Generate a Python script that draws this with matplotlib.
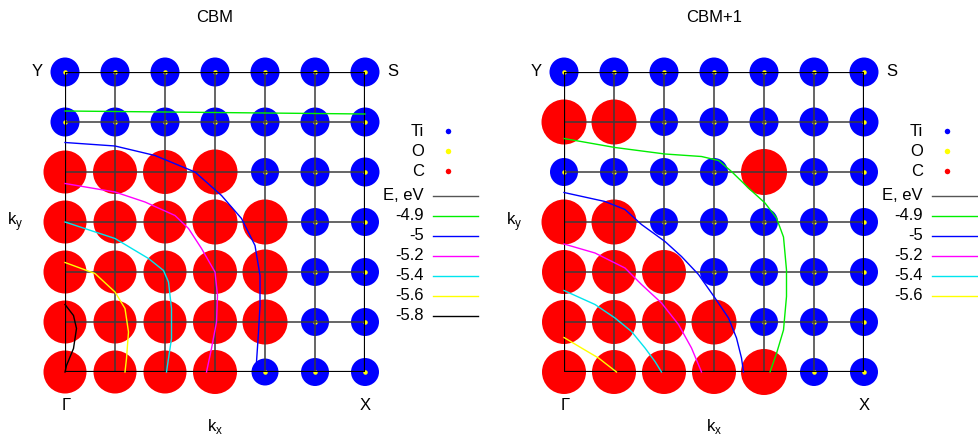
import matplotlib.pyplot as plt
import numpy as np

plt.rcParams['font.family'] = ['Liberation Sans', 'DejaVu Sans']

# k-point grid (7 x 7), index units between Γ and X / Γ and Y
kx = np.arange(7)
ky = np.arange(7)

# marker diameters (px); rows go from top (Y-S, ky=6) to bottom (Γ-X, ky=0)
cbm_ti = [[29, 29, 29, 29, 29, 29, 29],
          [29, 29, 29, 29, 29, 29, 29],
          [0, 0, 0, 0, 28, 29, 29],
          [0, 0, 0, 0, 0, 28, 28],
          [0, 0, 0, 0, 0, 28, 28],
          [0, 0, 0, 0, 0, 28, 28],
          [0, 0, 0, 0, 27, 28, 28]]
cbm_c = [[0, 0, 0, 0, 0, 0, 0],
         [0, 0, 0, 0, 0, 0, 0],
         [43, 44, 44, 45, 0, 0, 0],
         [43, 43, 43, 45, 45, 0, 0],
         [43, 43, 43, 44, 45, 0, 0],
         [43, 43, 43, 44, 45, 0, 0],
         [43, 43, 43, 44, 0, 0, 0]]

cbm1_ti = [[29, 29, 29, 29, 29, 29, 29],
           [0, 0, 28, 29, 29, 29, 29],
           [28, 28, 28, 28, 0, 28, 28],
           [0, 0, 28, 28, 28, 28, 28],
           [0, 0, 0, 28, 28, 28, 28],
           [0, 0, 0, 0, 28, 28, 28],
           [0, 0, 0, 0, 0, 28, 28]]
cbm1_c = [[0, 0, 0, 0, 0, 0, 0],
          [45, 45, 0, 0, 0, 0, 0],
          [0, 0, 0, 0, 46, 0, 0],
          [45, 45, 0, 0, 0, 0, 0],
          [44, 44, 44, 0, 0, 0, 0],
          [44, 44, 44, 45, 0, 0, 0],
          [44, 44, 44, 44, 46, 0, 0]]
o_size = 4.5

levels = ['-4.9', '-5', '-5.2', '-5.4', '-5.6', '-5.8']
level_colors = ['#00ee00', '#0000ff', '#ff00ff', '#00e5ee', '#ffff00', '#000000']

# iso-energy lines (kx, ky) for CBM
cbm_lines = {
    '-4.9': ([0, 1, 2, 3, 4, 5, 6], [5.22, 5.21, 5.20, 5.19, 5.18, 5.17, 5.16]),
    '-5': ([0, 1, 1.8, 2.6, 3.13, 3.53, 3.8, 3.9, 3.9, 3.87, 3.83],
           [4.59, 4.52, 4.33, 4.0, 3.53, 3.07, 2.53, 1.93, 1.33, 0.8, 0.2]),
    '-5.2': ([0, 1, 1.6, 2.2, 2.47, 2.73, 3.0, 3.05, 3.03, 2.93, 2.83],
             [3.77, 3.6, 3.4, 3.13, 2.87, 2.47, 2.0, 1.53, 1.0, 0.47, 0.0]),
    '-5.4': ([0, 1, 1.67, 1.97, 2.07, 2.13, 2.13, 2.03],
             [3.0, 2.67, 2.27, 2.03, 1.8, 1.27, 0.67, 0.0]),
    '-5.6': ([0, 0.6, 1.0, 1.2, 1.27, 1.23, 1.2],
             [2.19, 1.97, 1.6, 1.27, 0.8, 0.27, 0.0]),
    '-5.8': ([0, 0.17, 0.23, 0.17, 0.03, 0],
             [1.35, 1.13, 0.87, 0.47, 0.13, 0.0]),
}
# iso-energy lines for CBM+1
cbm1_lines = {
    '-4.9': ([0, 1.02, 2.02, 2.75, 3.09, 3.35, 3.69, 4.02, 4.25, 4.39, 4.45, 4.45, 4.39, 4.25, 4.12],
             [4.67, 4.49, 4.36, 4.31, 4.23, 4.01, 3.68, 3.38, 3.08, 2.7, 2.04, 1.51, 0.84, 0.37, 0.0]),
    '-5': ([0, 0.82, 1.22, 1.55, 2.02, 2.35, 2.69, 3.02, 3.29, 3.45, 3.55, 3.59],
           [3.59, 3.41, 3.25, 2.95, 2.61, 2.31, 1.95, 1.48, 1.08, 0.68, 0.28, 0.0]),
    '-5.2': ([0, 0.62, 1.22, 1.55, 1.95, 2.29, 2.55, 2.75],
             [2.56, 2.38, 2.08, 1.75, 1.38, 0.95, 0.48, 0.0]),
    '-5.4': ([0, 0.62, 1.02, 1.35, 1.62, 1.82, 1.95],
             [1.63, 1.35, 1.08, 0.81, 0.48, 0.21, 0.0]),
    '-5.6': ([0, 0.35, 0.69, 1.05], [0.69, 0.48, 0.28, 0.0]),
}

W, H = 979, 440
fig = plt.figure(figsize=(W / 100, H / 100), dpi=100)


def s_of(d):
    return (np.asarray(d, dtype=float) * 0.72) ** 2


def panel(x0, ti, c, lines):
    ax = fig.add_axes([x0 / W, 68 / H, 300 / W, 300 / H])
    ax.set_xlim(0, 6)
    ax.set_ylim(0, 6)
    ax.axis('off')
    X, Y = np.meshgrid(kx, ky[::-1])
    ti = np.array(ti)
    c = np.array(c)
    m = ti > 0
    ax.scatter(X[m], Y[m], s=s_of(ti[m]), c='#0000ff', lw=0, clip_on=False, zorder=1)
    ax.scatter(X.ravel(), Y.ravel(), s=s_of(o_size), c='#ffff00', lw=0, clip_on=False, zorder=2)
    m = c > 0
    ax.scatter(X[m], Y[m], s=s_of(c[m]), c='#ff0000', lw=0, clip_on=False, zorder=3)
    for v in kx[1:-1]:
        ax.plot([v, v], [0, 6], color='#3c3c3c', lw=1.1, zorder=4)
        ax.plot([0, 6], [v, v], color='#3c3c3c', lw=1.1, zorder=4)
    ax.plot([0, 6, 6, 0, 0], [0, 0, 6, 6, 0], color='black', lw=1.6, zorder=4)
    for lev, col in zip(levels, level_colors):
        if lev in lines:
            xs, ys = lines[lev]
            ax.plot(xs, ys, color=col, lw=1.0, zorder=5, clip_on=False)
    return ax


panel(65, cbm_ti, cbm_c, cbm_lines)
panel(564, cbm1_ti, cbm1_c, cbm1_lines)

# overlay in pixel coordinates for labels and legends
ov = fig.add_axes([0, 0, 1, 1])
ov.set_xlim(0, W)
ov.set_ylim(H, 0)
ov.axis('off')

fs = 12
for x0, title, tx, nlev in [(65, 'CBM', 424, 6), (564, 'CBM+1', 923, 5)]:
    ov.text(x0 + 150, 18, title, ha='center', va='center', fontsize=fs)
    ov.text(x0 - 28, 72, 'Y', ha='center', va='center', fontsize=fs)
    ov.text(x0 + 328, 72, 'S', ha='center', va='center', fontsize=fs)
    ov.text(x0 + 1, 406, 'Γ', ha='center', va='center', fontsize=fs)
    ov.text(x0 + 300, 406, 'X', ha='center', va='center', fontsize=fs)
    ov.text(x0 + 150, 427, r'k$_\mathregular{x}$', ha='center', va='center', fontsize=fs)
    ov.text(x0 - 50, 222, r'k$_\mathregular{y}$', ha='center', va='center', fontsize=fs)
    # species legend
    for i, (name, col) in enumerate([('Ti', '#0000ff'), ('O', '#ffff00'), ('C', '#ff0000')]):
        y = 131 + 20 * i
        ov.text(tx, y, name, ha='right', va='center', fontsize=fs)
        ov.scatter([tx + 24], [y], s=s_of(5.5), c=col, lw=0)
    # energy legend
    entries = [('E, eV', '#555555')] + list(zip(levels[:nlev], level_colors[:nlev]))
    for i, (lab, col) in enumerate(entries):
        y = 196 + 20 * i
        ov.text(tx, y, lab, ha='right', va='center', fontsize=fs)
        ov.plot([tx + 9, tx + 54], [y, y], color=col, lw=1.0)

fig.savefig('out.png', dpi=100)
